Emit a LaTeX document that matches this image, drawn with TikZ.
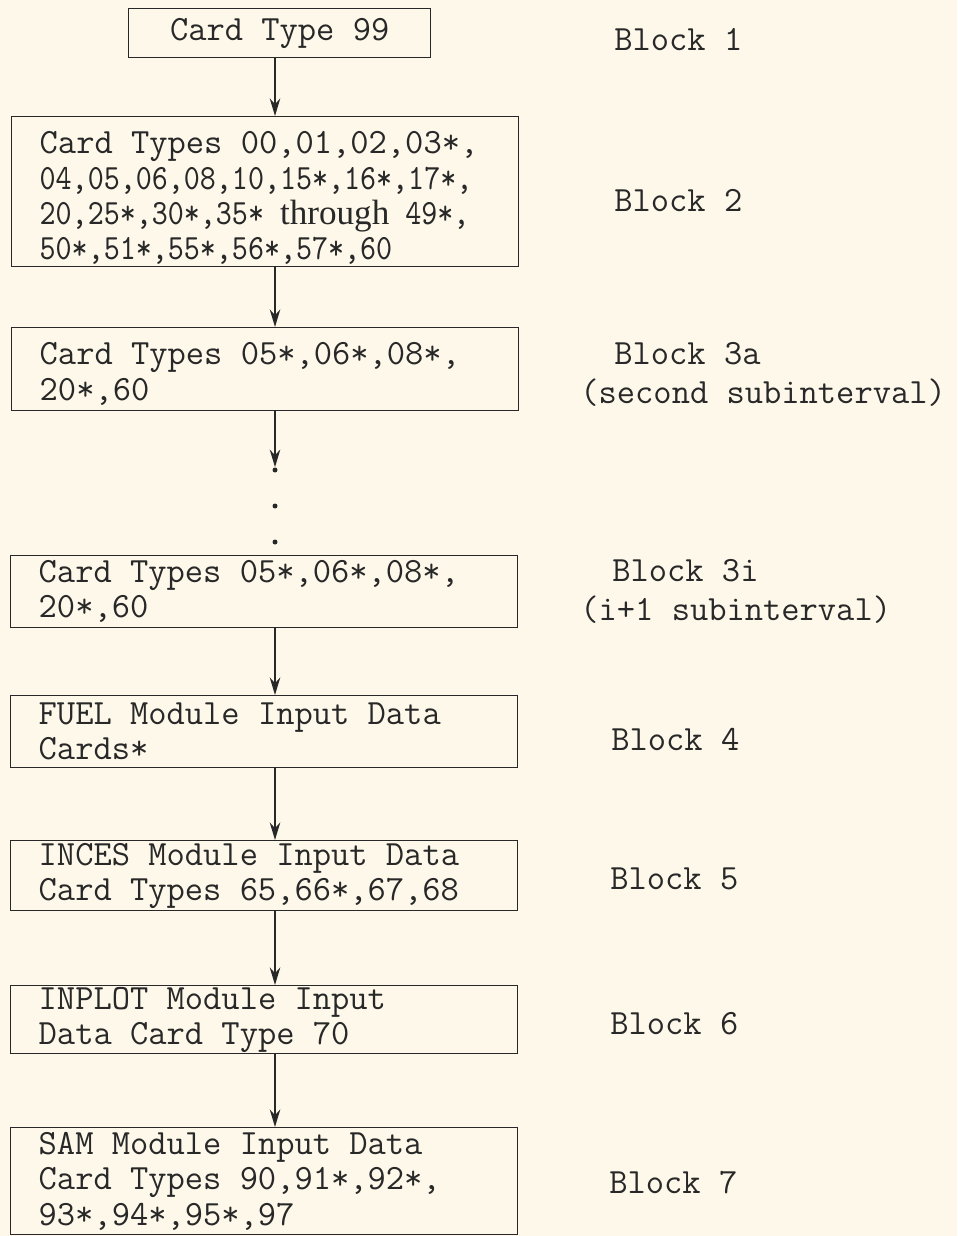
\documentclass[tikz,border=0pt]{standalone}
\usepackage{fontspec}
\setmainfont{Liberation Serif}
\newfontfamily\condmono{lmmono10-regular.otf}[FakeStretch=0.86]
\usepackage{tikz}
\usetikzlibrary{
  arrows.meta,
  positioning
}
\definecolor{paper}{RGB}{253,248,234}
\definecolor{ink}{RGB}{40,40,40}
\tikzset{
  >={Stealth[length=10pt,width=6pt]},
  flow/.style={->, line width=0.8pt, draw=ink},
  cardbox/.style={draw=ink, line width=0.8pt, rectangle, anchor=north west,
    text width=9.02cm, inner xsep=0.56cm, inner ysep=0pt, align=flush left,
    text=ink, font=\ttfamily\fontsize{20.2pt}{20.1pt}\selectfont},
  blocklabel/.style={anchor=west, inner sep=0pt, align=left, text=ink,
    font=\ttfamily\fontsize{20.2pt}{22.2pt}\selectfont},
  dot/.style={circle, fill=ink, inner sep=0pt, minimum size=0.1cm}
}

\begin{document}
\begin{tikzpicture}[x=0.02cm, y=-0.02cm]
    \fill[paper] (0,0) rectangle (957,1236);
    \useasboundingbox (0,0) rectangle (957,1236);
    \coordinate (axis) at (275,0);
    % boxes
    \node[cardbox, text width=6.04cm, inner xsep=0pt, minimum height=0.98cm, align=flush center] (b1) at (128,8) {Card Type 99};
    \node[cardbox, minimum height=3cm] (b2) at (11,116) {\rule{0pt}{20pt}Card Types 00,01,02,03*,\\{\condmono 04,05,06,08,10,15*,16*,17*,}\\{\condmono 20,25*,30*,35* {\rmfamily\fontsize{20pt}{20.1pt}\selectfont through} 49*,}\\{\condmono 50*,51*,55*,56*,57*,60}};
    \node[cardbox, minimum height=1.66cm] (b3a) at (11,327) {\rule{0pt}{18pt}Card Types 05*,06*,08*,\\20*,60};
    \node[dot] (d1) at (275,470) {};
    \node[dot] (d2) at (275,506) {};
    \node[dot] (d3) at (275,542) {};
    \node[cardbox, minimum height=1.44cm] (b3i) at (10,555) {Card Types 05*,06*,08*,\\20*,60};
    \node[cardbox, minimum height=1.44cm] (b4) at (10,695) {FUEL Module Input Data\\Cards*};
    \node[cardbox, minimum height=1.4cm] (b5) at (10,840) {INCES Module Input Data\\Card Types 65,66*,67,68};
    \node[cardbox, minimum height=1.36cm] (b6) at (10,985) {INPLOT Module Input\\Data Card Type 70};
    \node[cardbox, minimum height=2.14cm] (b7) at (10,1127) {SAM Module Input Data\\Card Types 90,91*,92*,\\93*,94*,95*,97};
    % labels
    \node[blocklabel] (l1) at (614,40) {Block 1};
    \node[blocklabel] (l2) at (614,201) {Block 2};
    \node[blocklabel] (l3a) at (580,374.5) {\hspace*{0.68cm}Block 3a\\(second subinterval)};
    \node[blocklabel] (l3i) at (580,591.5) {\hspace*{0.64cm}Block 3i\\(i+1 subinterval)};
    \node[blocklabel] (l4) at (611,740) {Block 4};
    \node[blocklabel] (l5) at (610,879) {Block 5};
    \node[blocklabel] (l6) at (610,1024) {Block 6};
    \node[blocklabel] (l7) at (609,1183) {Block 7};
    % arrows
    \draw[flow] (b1.south -| axis) -- (b2.north -| axis);
    \draw[flow] (b2.south -| axis) -- (b3a.north -| axis);
    \draw[flow] (b3a.south -| axis) -- (d1.north);
    \draw[flow] (b3i.south -| axis) -- (b4.north -| axis);
    \draw[flow] (b4.south -| axis) -- (b5.north -| axis);
    \draw[flow] (b5.south -| axis) -- (b6.north -| axis);
    \draw[flow] (b6.south -| axis) -- (b7.north -| axis);
\end{tikzpicture}
\end{document}
